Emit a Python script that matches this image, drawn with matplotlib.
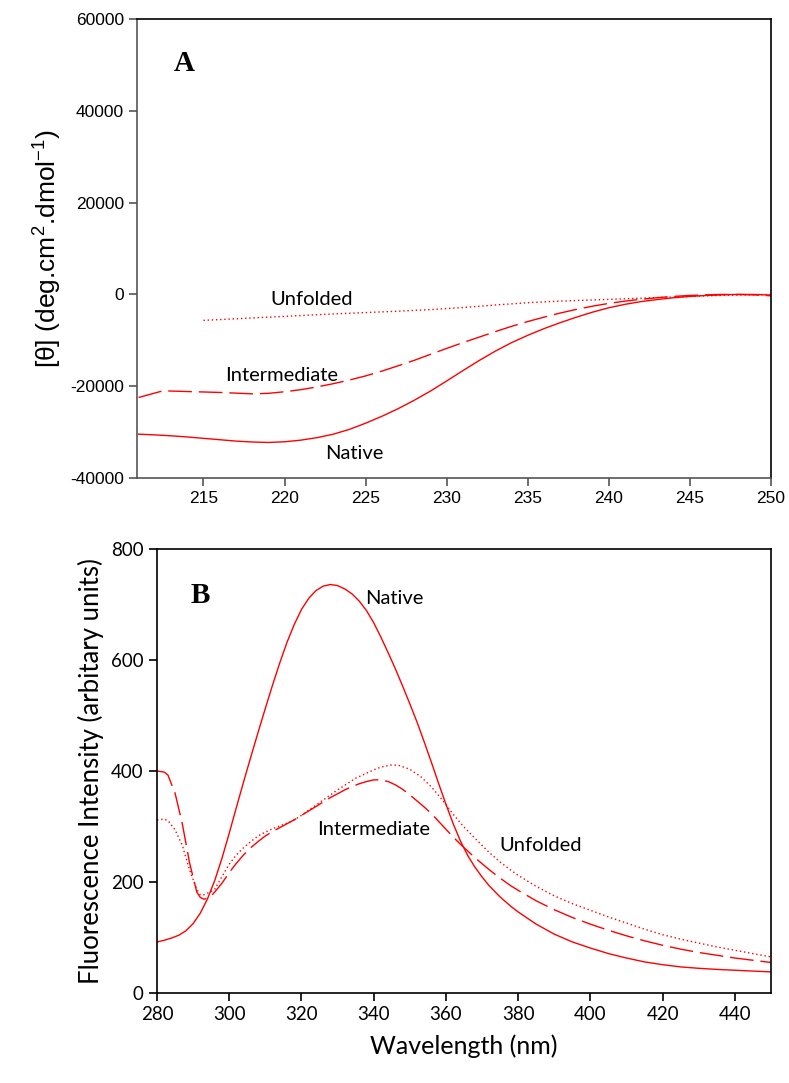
import matplotlib
matplotlib.use("Agg")
import matplotlib.pyplot as plt

plt.rcParams["axes.unicode_minus"] = False
plt.rcParams["mathtext.default"] = "regular"

# panel A - far UV CD
cd_wl = [211, 212, 213, 214, 215, 216, 217, 218, 219, 220, 221, 222, 223, 224, 225,
         226, 227, 228, 229, 230, 231, 232, 233, 234, 235, 236, 237, 238, 239, 240,
         241, 242, 243, 244, 245, 246, 247, 248, 249, 250]
cd_native = [-30440, -30600, -30800, -31050, -31350, -31650, -31950, -32150, -32250, -32100,
             -31750, -31200, -30450, -29400, -28050, -26550, -24900, -23050, -21050, -18850,
             -16600, -14400, -12350, -10500, -8900, -7450, -6150, -4950, -3850, -2900,
             -2150, -1550, -1100, -720, -430, -220, -80, 0, 0, -150]
cd_int_wl = [211, 212.5, 214, 215, 216, 217, 218, 219, 220, 221, 222, 223, 224, 225, 226,
             227, 228, 229, 230, 231, 232, 233, 234, 235, 236, 237, 238, 239, 240, 241,
             242, 243, 244, 245, 246, 247, 248, 249, 250]
cd_int = [-22450, -21000, -21150, -21250, -21350, -21500, -21650, -21550, -21200, -20750,
          -20150, -19450, -18650, -17750, -16700, -15550, -14350, -13050, -11750, -10500,
          -9300, -8100, -6950, -5900, -4950, -4050, -3250, -2550, -1950, -1450,
          -1050, -700, -420, -220, -80, 0, 0, -100, -300]
cd_unf_wl = [215, 217, 219, 221, 223, 225, 227, 229, 231, 233, 235, 237, 239, 241, 243,
             245, 247, 249, 250]
cd_unf = [-5650, -5300, -4950, -4600, -4250, -3950, -3650, -3300, -2850, -2300, -1800,
          -1450, -1200, -950, -680, -430, -200, -50, 0]

# panel B - intrinsic fluorescence
fl_nat_wl = [280, 282, 284, 286, 288, 290, 292, 294, 296, 298, 300, 302, 304, 306, 308,
             310, 312, 314, 316, 318, 320, 322, 324, 326, 328, 330, 332, 334, 336, 338,
             340, 342, 344, 346, 348, 350, 352, 354, 356, 358, 360, 362, 364, 366, 368,
             370, 372, 375, 378, 380, 385, 390, 395, 400, 405, 410, 415, 420, 425, 430,
             435, 440, 445, 450]
fl_nat = [92, 95, 99, 104, 112, 125, 144, 170, 203, 243, 288, 335, 381, 426, 470,
          513, 555, 595, 632, 664, 691, 711, 725, 733, 736, 734, 728, 719, 706, 689,
          667, 641, 613, 584, 553, 521, 488, 452, 415, 377, 340, 305, 274, 248, 227,
          209, 193, 173, 156, 146, 124, 106, 92, 81, 71, 63, 56, 51, 47, 44.5,
          42.5, 41, 39.5, 38]
fl_int_wl = [280, 282, 283, 285, 287, 289, 291, 292, 293, 294, 295, 296, 298, 300, 302,
             304, 306, 308, 310, 312, 314, 316, 318, 320, 322, 324, 326, 328, 330, 332,
             334, 336, 338, 340, 342, 344, 346, 348, 350, 352, 354, 356, 358, 360, 362,
             364, 366, 368, 370, 372, 375, 378, 380, 385, 390, 395, 400, 405, 410, 415,
             420, 425, 430, 435, 440, 445, 450]
fl_int = [400, 398, 393, 360, 305, 235, 182, 172, 169, 171, 175, 182, 198, 217, 234,
          249, 262, 273, 283, 291, 298, 305, 312, 320, 328, 336, 344, 352, 359, 366,
          372, 377, 381, 384, 384, 381, 375, 367, 357, 346, 335, 323, 309, 295, 281,
          268, 256, 244, 233, 222, 207, 193, 185, 166, 150, 136, 124, 113, 103, 94,
          86, 79, 73, 68, 63, 59, 55]
fl_unf_wl = [280, 282, 283, 285, 287, 289, 291, 292, 293, 294, 295, 296, 298, 300, 302,
             304, 306, 308, 310, 312, 314, 316, 318, 320, 325, 330, 335, 340, 342, 345,
             347, 350, 353, 356, 359, 362, 365, 368, 370, 372, 375, 378, 380, 385, 390,
             395, 400, 405, 410, 415, 420, 425, 430, 435, 440, 445, 450]
fl_unf = [312, 313, 311, 294, 266, 222, 187, 177, 177, 180, 183, 187, 210, 232, 249,
          262, 273, 283, 290, 296, 301, 306, 312, 320, 343, 366, 387, 402, 407, 411,
          410, 403, 390, 371, 348, 322, 299, 279, 266, 253, 236, 221, 212, 192, 175,
          161, 149, 137, 126, 115, 105, 97, 90, 83, 77, 71, 65]

red = "#ff0000"
dash = (0, (17, 5))
dot = (0, (1, 2))

fig = plt.figure(figsize=(7.89, 10.83), dpi=100)

# ---- A ----
ax1 = fig.add_axes([0.1736, 0.5586, 0.8036, 0.4238])
ax1.plot(cd_wl, cd_native, color=red, lw=1.0)
ax1.plot(cd_int_wl, cd_int, color=red, lw=1.0, ls=dash)
ax1.plot(cd_unf_wl, cd_unf, color=red, lw=1.0, ls=dot)
ax1.set_xlim(210.9, 250)
ax1.set_ylim(-40000, 60000)
ax1.set_xticks([215, 220, 225, 230, 235, 240, 245, 250])
ax1.set_yticks([-40000, -20000, 0, 20000, 40000, 60000])
ax1.tick_params(direction="out", length=6, width=1.2, labelsize=12.5, color="#555555")
for lab in ax1.get_xticklabels() + ax1.get_yticklabels():
    lab.set_family("Liberation Sans")
ax1.spines["left"].set_color("#555555")
ax1.spines["bottom"].set_color("#555555")
for s in ax1.spines.values():
    s.set_linewidth(1.2)
ax1.set_ylabel("[\u03b8] (deg.cm$^{2}$.dmol$^{-1}$)", family="Liberation Sans", fontsize=19, labelpad=4)
ax1.text(213.8, 50400, "A", family="Liberation Serif", fontweight="bold", fontsize=21,
         ha="center", va="center")
ax1.text(221.7, -1150, "Unfolded", family="Lato", fontsize=14.5, ha="center", va="center")
ax1.text(219.8, -17600, "Intermediate", family="Lato", fontsize=14.5, ha="center", va="center")
ax1.text(224.3, -34630, "Native", family="Lato", fontsize=14.5, ha="center", va="center")

# ---- B ----
ax2 = fig.add_axes([0.199, 0.0831, 0.7782, 0.41])
ax2.plot(fl_nat_wl, fl_nat, color=red, lw=1.0)
ax2.plot(fl_int_wl, fl_int, color=red, lw=1.0, ls=dash)
ax2.plot(fl_unf_wl, fl_unf, color=red, lw=1.0, ls=dot)
ax2.set_xlim(280, 450)
ax2.set_ylim(0, 800)
ax2.set_xticks([280, 300, 320, 340, 360, 380, 400, 420, 440])
ax2.set_yticks([0, 200, 400, 600, 800])
ax2.tick_params(direction="out", length=6, width=1.2, labelsize=13.5)
for lab in ax2.get_xticklabels() + ax2.get_yticklabels():
    lab.set_family("Lato")
for s in ax2.spines.values():
    s.set_linewidth(1.2)
ax2.set_xlabel("Wavelength (nm)", family="Lato", fontsize=18, labelpad=8)
ax2.set_ylabel("Fluorescence Intensity (arbitary units)", family="Lato", fontsize=18.5, labelpad=5)
ax2.text(291.9, 717, "B", family="Liberation Serif", fontweight="bold", fontsize=21,
         ha="center", va="center")
ax2.text(345.8, 711, "Native", family="Lato", fontsize=14.5, ha="center", va="center")
ax2.text(340.1, 293.7, "Intermediate", family="Lato", fontsize=14.5, ha="center", va="center")
ax2.text(386.1, 265, "Unfolded", family="Lato", fontsize=14.5, ha="center", va="center")

fig.savefig("out.png", dpi=100)
